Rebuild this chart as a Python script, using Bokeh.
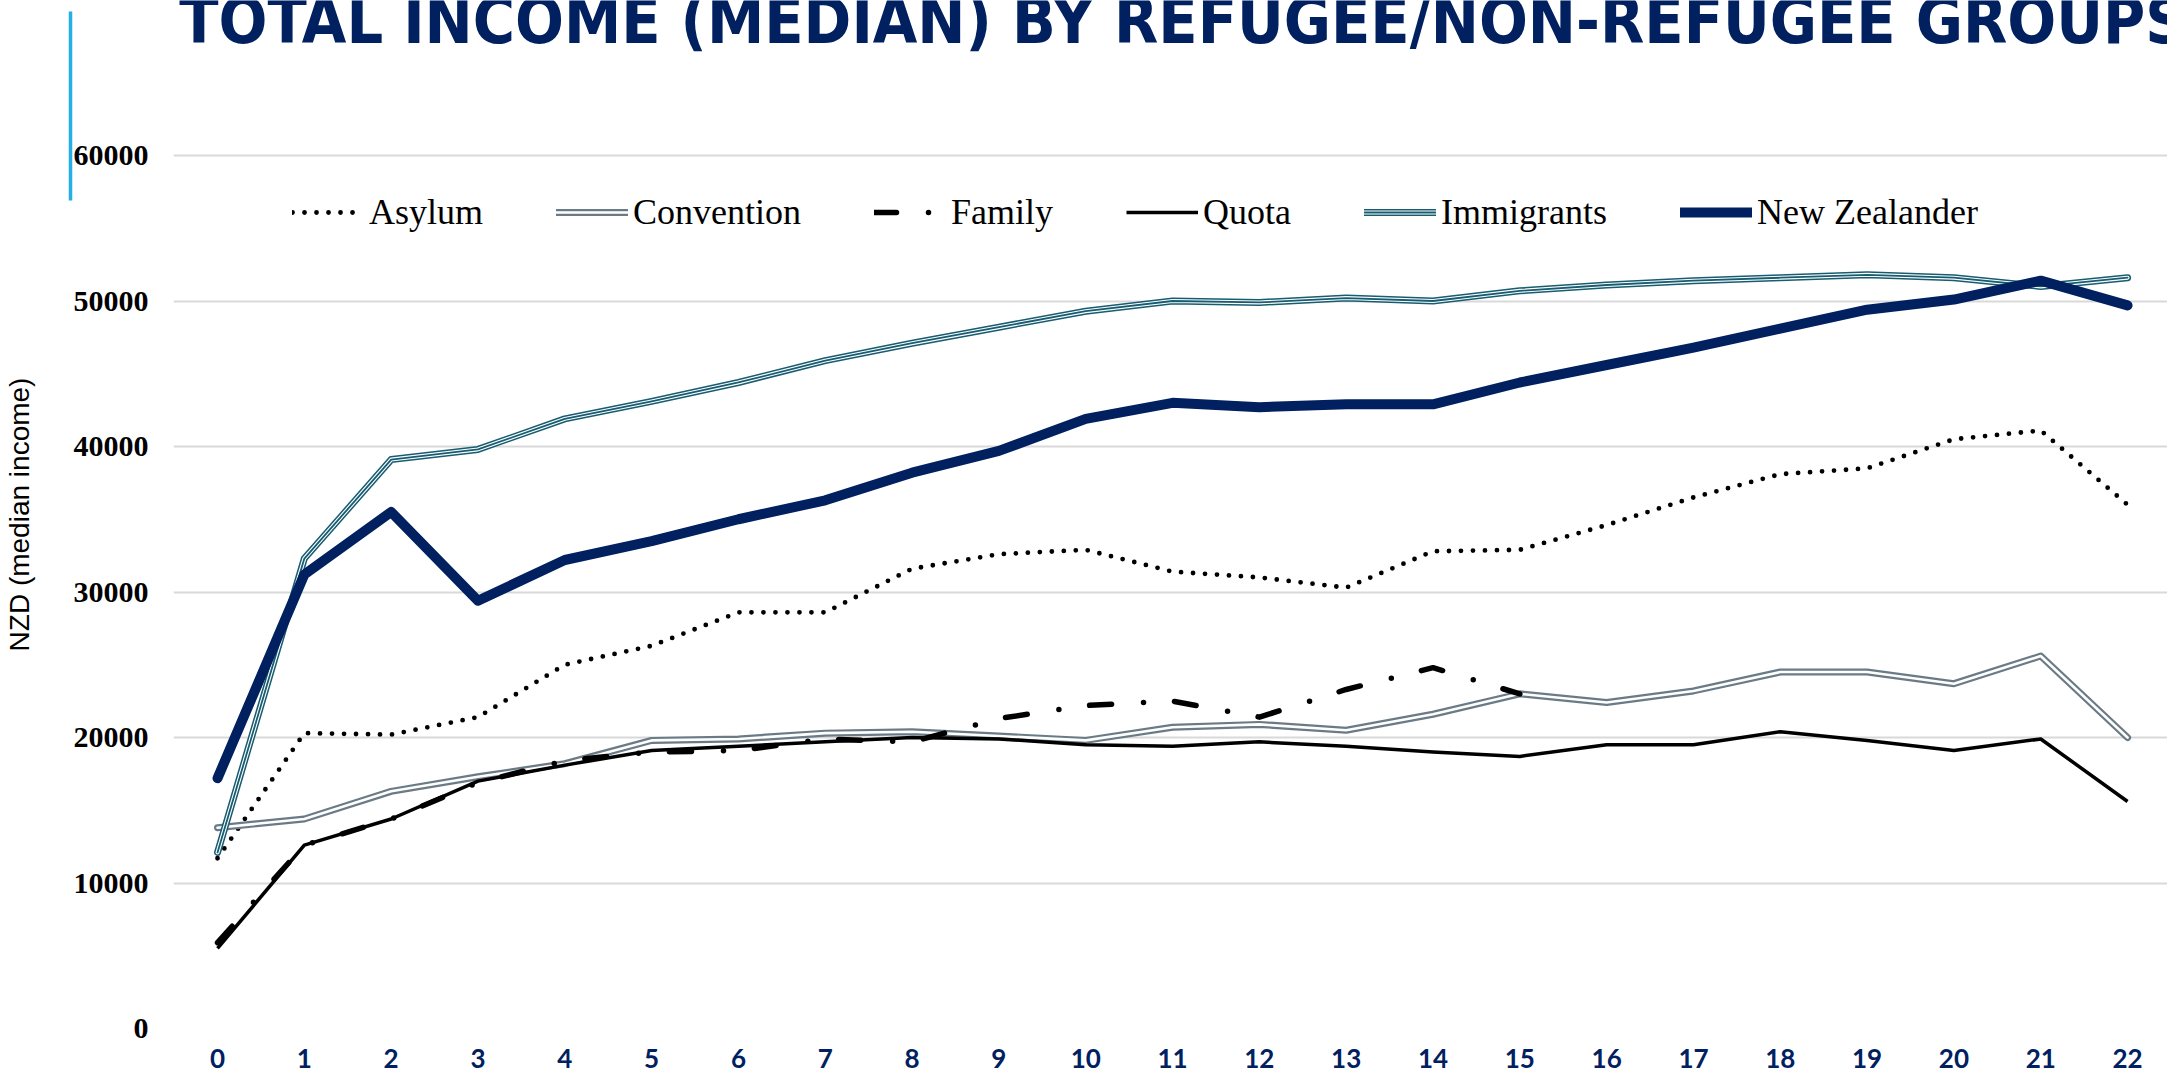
from bokeh.plotting import figure
from bokeh.models import (Range1d, FixedTicker, Label, Legend, LegendItem, LinearAxis,
                          ColumnDataSource)
from bokeh.embed import file_html
from bokeh.resources import INLINE

# ---------------- data ----------------
years = list(range(23))
tick_labels = [str(v) for v in years]
asylum = [11700, 20300, 20200, 21400, 25000, 26300, 28600, 28600, 31600, 32600, 32900,
          31400, 31000, 30300, 32800, 32900, 34600, 36500, 38100, 38500, 40500, 41100, 36000]
convention = [13800, 14400, 16300, 17300, 18200, 19800, 19900, 20300, 20400, 20100, 19800,
              20700, 20900, 20500, 21600, 23000, 22400, 23200, 24500, 24500, 23700, 25600, 20000]
family_years = list(range(16))
family = [5900, 12600, 14400, 16900, 18400, 19000, 19100, 19900, 19700, 21300, 22200,
          22500, 21400, 23300, 24800, 23000]
quota = [5500, 12600, 14400, 17000, 18100, 19100, 19400, 19700, 20000, 19900, 19500,
         19400, 19700, 19400, 19000, 18700, 19500, 19500, 20400, 19800, 19100, 19900, 15600]
immigrants = [12100, 32300, 39100, 39800, 41900, 43100, 44400, 45900, 47100, 48200, 49300,
              50000, 49900, 50200, 50000, 50700, 51100, 51400, 51600, 51800, 51600, 51000, 51600]
new_zealander = [17200, 31200, 35500, 29400, 32200, 33500, 35000, 36300, 38200, 39700, 41900,
                 43000, 42700, 42900, 42900, 44400, 45600, 46800, 48100, 49400, 50100, 51400, 49700]
y_ticks = [0, 10000, 20000, 30000, 40000, 50000, 60000]
title_text = "TOTAL INCOME (MEDIAN) BY REFUGEE/NON-REFUGEE GROUPS"
y_label_text = "NZD (median income)"

NAVY = "#002060"
TEAL = "#175C70"
GREY = "#6A7B86"
ACCENT = "#26AEE6"

p = figure(width=2167, height=1076, output_backend="svg", toolbar_location=None,
           x_range=Range1d(-0.507, 22.46), y_range=Range1d(0, 70653),
           min_border_left=173, min_border_right=0, min_border_top=0, min_border_bottom=48)
p.outline_line_color = None
p.background_fill_color = "white"
p.border_fill_color = "white"

# axes
p.xaxis.ticker = FixedTicker(ticks=years)
p.xaxis.major_label_overrides = {v: s for v, s in zip(years, tick_labels)}
p.xaxis.axis_line_color = None
p.xaxis.major_tick_line_color = None
p.xaxis.minor_tick_line_color = None
p.xaxis.major_tick_out = 0
p.xaxis.major_tick_in = 0
p.xaxis.minor_tick_out = 0
p.xaxis.major_label_text_font = "Lato"
p.xaxis.major_label_text_font_style = "bold"
p.xaxis.major_label_text_font_size = "26px"
p.xaxis.major_label_text_color = NAVY
p.xaxis.major_label_standoff = 20

p.yaxis.ticker = FixedTicker(ticks=y_ticks)
p.yaxis.axis_line_color = None
p.yaxis.major_tick_line_color = None
p.yaxis.minor_tick_line_color = None
p.yaxis.major_tick_out = 0
p.yaxis.major_tick_in = 0
p.yaxis.minor_tick_out = 0
p.yaxis.major_label_text_font = "Liberation Serif"
p.yaxis.major_label_text_font_style = "bold"
p.yaxis.major_label_text_font_size = "30px"
p.yaxis.major_label_text_color = "black"
p.yaxis.major_label_standoff = 25
p.yaxis.formatter.use_scientific = False

# light-blue accent bar (rule of an extra, label-less axis)
accent_axis = LinearAxis(ticker=FixedTicker(ticks=[]), bounds=(56907, 69897),
                         axis_line_color=ACCENT, axis_line_width=3.5,
                         major_tick_out=0, major_tick_in=0, minor_tick_out=0, minor_tick_in=0,
                         major_label_text_font_size="0px")
p.add_layout(accent_axis, "left")

# y axis title (on an invisible axis so it can sit off-centre, as in the original)
title_axis = LinearAxis(ticker=FixedTicker(ticks=[]), bounds=(30000, 40240),
                        axis_line_color=None, major_tick_out=0, major_tick_in=0,
                        minor_tick_out=0, minor_tick_in=0, major_label_text_font_size="0px",
                        axis_label=y_label_text, axis_label_text_font="Liberation Sans",
                        axis_label_text_font_style="normal", axis_label_text_font_size="28px",
                        axis_label_text_color="black", axis_label_standoff=36)
p.add_layout(title_axis, "left")

p.xgrid.grid_line_color = None
p.ygrid.ticker = FixedTicker(ticks=y_ticks)
p.ygrid.grid_line_color = "#D9D9D9"
p.ygrid.grid_line_width = 2

src = ColumnDataSource(dict(x=years, asylum=asylum, convention=convention, quota=quota,
                            immigrants=immigrants, nz=new_zealander))
fsrc = ColumnDataSource(dict(x=family_years, family=family))

r_asy = p.line("x", "asylum", source=src, line_color="black", line_width=4.8,
               line_dash="0 12", line_cap="round", line_join="round")
r_con1 = p.line("x", "convention", source=src, line_color=GREY, line_width=7,
                line_cap="round", line_join="round")
r_con2 = p.line("x", "convention", source=src, line_color="white", line_width=2.6,
                line_cap="round", line_join="round")
r_fam = p.line("x", "family", source=fsrc, line_color="black", line_width=5.5,
               line_dash="22 32 0 31", line_cap="round", line_join="round")
r_quo = p.line("x", "quota", source=src, line_color="black", line_width=3.5,
               line_join="round")
r_imm1 = p.line("x", "immigrants", source=src, line_color=TEAL, line_width=7,
                line_cap="round", line_join="round")
r_imm2 = p.line("x", "immigrants", source=src, line_color="white", line_width=4,
                line_cap="round", line_join="round")
r_imm3 = p.line("x", "immigrants", source=src, line_color=TEAL, line_width=1.8,
                line_cap="round", line_join="round")
r_nz = p.line("x", "nz", source=src, line_color=NAVY, line_width=10,
              line_cap="round", line_join="round")

legend = Legend(items=[
    LegendItem(label="Asylum", renderers=[r_asy]),
    LegendItem(label="Convention", renderers=[r_con1, r_con2]),
    LegendItem(label="Family", renderers=[r_fam]),
    LegendItem(label="Quota", renderers=[r_quo]),
    LegendItem(label="Immigrants", renderers=[r_imm1, r_imm2, r_imm3]),
    LegendItem(label="New Zealander", renderers=[r_nz]),
], orientation="horizontal", location=(119, 795), glyph_width=72, glyph_height=30,
    label_standoff=5, spacing=73, padding=0, margin=0,
    label_text_font="Liberation Serif", label_text_font_size="36px",
    label_text_color="black", border_line_color=None, background_fill_alpha=0)
p.add_layout(legend, "center")

# chart title, cut off by the top edge as in the original
p.add_layout(Label(x=-0.44, y=69250, text=title_text,
                   text_font="DejaVu Sans Condensed, Roboto Condensed, Liberation Sans Narrow, sans-serif",
                   text_font_style="bold", text_font_size="64px", text_color=NAVY,
                   text_align="left", text_baseline="alphabetic"))

open("out.html", "w").write(file_html(p, INLINE))
